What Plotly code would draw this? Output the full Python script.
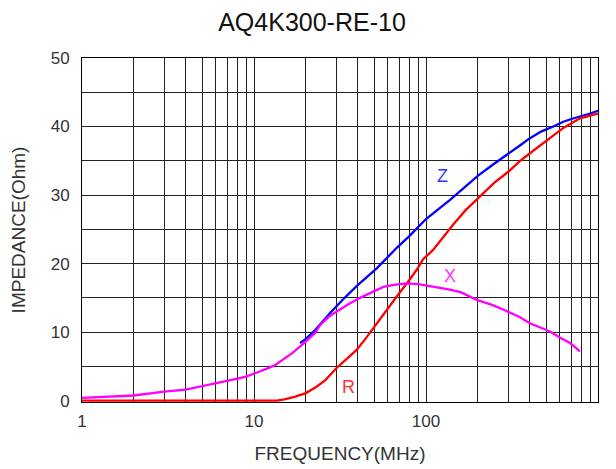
import math
import plotly.graph_objects as go

# ---- data ----
x_freq = [1, 1.5, 2, 3, 4, 5, 6, 7, 8, 9, 10, 12, 13.3, 16.6, 20, 22.7, 24.2, 27.7,
          30.3, 35, 41.3, 50, 56.5, 65, 77, 90, 100, 138, 160, 197, 240, 281, 350,
          402, 526, 600, 688, 785]
x_vals = [0.4, 0.55, 0.75, 1.3, 1.6, 2.1, 2.5, 2.8, 3.2, 3.5, 3.9, 4.7, 5.2, 6.9,
          8.6, 9.9, 11.0, 12.4, 13.0, 14.0, 15.0, 16.0, 16.6, 16.9, 17.1, 17.0,
          16.8, 16.2, 15.8, 14.7, 14.0, 13.3, 12.2, 11.3, 10.1, 9.2, 8.4, 7.2]

z_freq = [18.5, 20, 22.7, 27.7, 33, 39.5, 51.7, 67.6, 80, 92.3, 100, 138, 160, 200,
          250, 301, 350, 402, 470, 550, 629, 700, 800, 900, 1000]
z_vals = [8.4, 9.0, 10.3, 12.8, 14.8, 16.7, 19.3, 22.3, 24.0, 25.7, 26.5, 29.3,
          30.7, 32.8, 34.6, 36.1, 37.2, 38.3, 39.3, 40.0, 40.7, 41.1, 41.5, 41.9, 42.3]

r_freq = [1, 13.6, 15, 17.4, 20, 23, 26, 30.3, 35, 39.5, 45, 51.7, 60, 67.6, 80,
          88.3, 96, 110, 144, 170, 206, 250, 301, 350, 402, 503, 629, 786, 900, 1000]
r_vals = [0, 0, 0.2, 0.6, 1.1, 2.0, 3.0, 4.8, 6.2, 7.4, 9.2, 11.3, 13.4, 15.2, 17.6,
          19.1, 20.6, 22.0, 25.7, 27.8, 29.8, 31.8, 33.4, 34.9, 36.1, 38.0, 39.8,
          41.2, 41.6, 41.9]

x_ticks = [1, 10, 100, 1000]
x_minor = [m * d for d in (1, 10, 100) for m in range(2, 10)]
y_ticks = [0, 10, 20, 30, 40, 50]
y_minor = [5, 10, 15, 20, 25, 30, 35, 40, 45]

labels = [("Z", 124, 32.8, "#3333ff"), ("X", 138, 18.2, "#ff33ff"), ("R", 35.5, 2.0, "#ff3333")]

FONT = "Liberation Sans, Arial, sans-serif"

fig = go.Figure()
fig.add_trace(go.Scatter(x=z_freq, y=z_vals, mode="lines", line=dict(color="#0000ff", width=2.3)))
fig.add_trace(go.Scatter(x=r_freq, y=r_vals, mode="lines", line=dict(color="#ff0000", width=2.3)))
fig.add_trace(go.Scatter(x=x_freq, y=x_vals, mode="lines", line=dict(color="#ff00ff", width=2.3)))

for t, fx, fy, c in labels:
    fig.add_annotation(x=math.log10(fx), y=fy, xref="x", yref="y", text=t, showarrow=False,
                       font=dict(family=FONT, size=18, color=c))

# page body has an 8px margin, so the figure is sized/offset to land on the reference pixels
fig.update_layout(
    width=608, height=461,
    margin=dict(l=74, r=18, t=50, b=67),
    paper_bgcolor="white", plot_bgcolor="white",
    showlegend=False,
    font=dict(family=FONT, color="#333333"),
    title=dict(text="AQ4K300-RE-10", x=0.5, xref="container", y=0.9685, yref="container",
               xanchor="center", yanchor="middle",
               font=dict(family=FONT, size=25, color="#111111")),
)
fig.update_xaxes(
    type="log", range=[0, 3],
    tickvals=x_ticks, ticktext=[str(v) for v in x_ticks],
    tickfont=dict(size=17, color="#333333"), ticks="", ticklabelstandoff=4,
    showgrid=True, gridcolor="#222222", gridwidth=1,
    minor=dict(tickvals=x_minor, showgrid=True, gridcolor="#222222", gridwidth=1, ticks=""),
    showline=True, mirror=True, linecolor="black", linewidth=1, layer="below traces",
    zeroline=False,
    title=dict(text="FREQUENCY(MHz)", font=dict(size=19, color="#333333"), standoff=16),
    automargin=False,
)
fig.update_yaxes(
    range=[-0.2, 50],
    tickvals=y_ticks, ticktext=[str(v) for v in y_ticks],
    tickfont=dict(size=17, color="#333333"), ticks="", ticklabelstandoff=8,
    showgrid=False,
    minor=dict(tickvals=y_minor, showgrid=True, gridcolor="#222222", gridwidth=1, ticks=""),
    showline=True, mirror=True, linecolor="black", linewidth=1, layer="below traces",
    zeroline=False,
    title=dict(text="IMPEDANCE(Ohm)", font=dict(size=19, color="#333333"), standoff=22),
    automargin=False,
)

fig.write_html("out.html")
